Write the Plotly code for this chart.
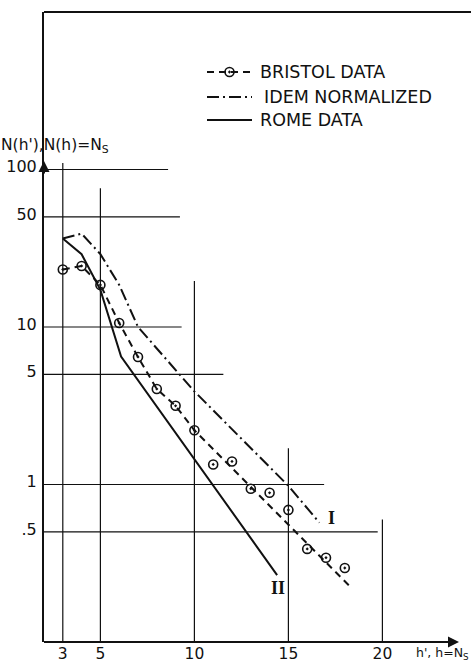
import plotly.graph_objects as go
import math

# ---------------- data ----------------
bristol_x = [3, 4, 5, 6, 7, 8, 9, 10, 11, 12, 13, 14, 15, 16, 17, 18]
bristol_y = [23.2, 24.4, 18.5, 10.6, 6.45, 4.04, 3.16, 2.21, 1.34, 1.40, 0.94, 0.886, 0.69, 0.39, 0.343, 0.295]

bristol_fit_x = [3, 4, 5, 6, 7, 8, 9, 10, 18.33]
bristol_fit_y = [23.2, 24.4, 18.5, 10.6, 6.45, 4.04, 3.16, 2.21, 0.222]

idem_x = [3, 4, 5, 6, 7, 10, 15, 16.65]
idem_y = [36.5, 39.2, 29.0, 18.5, 10.0, 3.9, 0.98, 0.572]

rome_x = [3, 4, 5, 6.1, 14.4]
rome_y = [36.5, 29.0, 17.2, 6.5, 0.266]

x_tick_vals = [3, 5, 10, 15, 20]
x_tick_text = ["3", "5", "10", "15", "20"]
y_tick_vals = [0.5, 1, 5, 10, 50, 100]
y_tick_text = [".5", "1", "5", "10", "50", "100"]

# grid lines with their partial extents (as drawn in the original)
h_grid_vals = [100, 50, 10, 5, 1, 0.5]
h_grid_ends = [8.6, 9.23, 9.32, 11.54, 16.9, 19.75]
v_grid_vals = [3, 5, 10, 15, 20]
v_grid_tops = [110, 76, 19.6, 1.70, 0.60]

legend_names = ["BRISTOL DATA", "IDEM NORMALIZED", "ROME DATA"]

# ---------------- figure ----------------
W, H = 471, 663
ML, MR, MT, MB = 44, 0, 12, 21
PW, PH = W - ML - MR, H - MT - MB
X0 = 2.0
XPX = 18.8
X1 = X0 + PW / XPX

def px2paper_x(px):
    return (px - ML) / PW

def px2paper_y(py):
    return (H - MB - py) / PH

INK = "#111111"
FONT = "DejaVu Sans"

fig = go.Figure()

fig.add_trace(go.Scatter(x=bristol_fit_x, y=bristol_fit_y, mode="lines",
                         line=dict(color=INK, width=2, dash="7px,5px"),
                         showlegend=False, hoverinfo="skip"))
fig.add_trace(go.Scatter(x=idem_x, y=idem_y, mode="lines",
                         line=dict(color=INK, width=2, dash="12px,4px,2px,4px"),
                         showlegend=False))
fig.add_trace(go.Scatter(x=rome_x, y=rome_y, mode="lines",
                         line=dict(color=INK, width=2),
                         showlegend=False))
fig.add_trace(go.Scatter(x=bristol_x, y=bristol_y, mode="markers",
                         marker=dict(symbol="circle-open-dot", size=9, color=INK,
                                     line=dict(color=INK, width=1.6)),
                         showlegend=False))

shapes = []
for v, e in zip(h_grid_vals, h_grid_ends):
    shapes.append(dict(type="line", xref="x", yref="y", x0=X0, x1=e, y0=v, y1=v,
                       line=dict(color=INK, width=1.2), layer="below"))
for v, t in zip(v_grid_vals, v_grid_tops):
    shapes.append(dict(type="line", xref="x", yref="y", x0=v, x1=v, y0=0.1, y1=t,
                       line=dict(color=INK, width=1.2), layer="below"))
# frame: top line and bottom axis line
shapes.append(dict(type="line", xref="paper", yref="paper", x0=0, x1=1, y0=1, y1=1,
                   line=dict(color=INK, width=2)))
shapes.append(dict(type="line", xref="paper", yref="paper", x0=0, x1=px2paper_x(452), y0=0, y1=0,
                   line=dict(color=INK, width=2)))

# manual legend
leg_rows = [72, 97, 120]
leg_x0, leg_x1 = 207, 252
dashes = ["7px,5px", "12px,4px,2px,4px", "solid"]
for ry, d in zip(leg_rows, dashes):
    shapes.append(dict(type="line", xref="paper", yref="paper",
                       x0=px2paper_x(leg_x0), x1=px2paper_x(leg_x1),
                       y0=px2paper_y(ry), y1=px2paper_y(ry),
                       line=dict(color=INK, width=2, dash=d)))

fig.add_trace(go.Scatter(x=[X0 + (229.5 - ML) / XPX], y=[10 ** (3 - (leg_rows[0] - MT) / 157.5)],
                         mode="markers",
                         marker=dict(symbol="circle-open-dot", size=9, color=INK,
                                     line=dict(color=INK, width=1.6)),
                         showlegend=False, hoverinfo="skip"))

annotations = []
leg_text_x = [258, 262, 258]
for name, ry, tx in zip(legend_names, leg_rows, leg_text_x):
    annotations.append(dict(xref="paper", yref="paper", x=px2paper_x(tx), y=px2paper_y(ry),
                            xanchor="left", yanchor="middle", showarrow=False,
                            text=name, font=dict(family=FONT, size=17.5, color=INK)))

# roman numeral labels
annotations.append(dict(xref="x", yref="y", x=17.3, y=math.log10(0.61), text="<b>I</b>",
                        showarrow=False, font=dict(family="Liberation Serif", size=18, color=INK)))
annotations.append(dict(xref="x", yref="y", x=14.45, y=math.log10(0.219), text="<b>II</b>",
                        showarrow=False, font=dict(family="Liberation Serif", size=18, color=INK)))

# axis titles
annotations.append(dict(xref="paper", yref="paper", x=px2paper_x(-1), y=px2paper_y(146),
                        xanchor="left", yanchor="middle", showarrow=False,
                        text="N(h'),N(h)=N<sub>S</sub>", font=dict(family=FONT, size=15.5, color=INK)))
annotations.append(dict(xref="paper", yref="paper", x=px2paper_x(414), y=px2paper_y(653),
                        xanchor="left", yanchor="middle", showarrow=False,
                        text="h', h=N<sub>S</sub>", font=dict(family=FONT, size=12.5, color=INK)))

# arrows on axes
annotations.append(dict(xref="paper", yref="paper", x=px2paper_x(459), y=0, text="",
                        showarrow=True, ax=-14, ay=0, arrowhead=2, arrowsize=1.1,
                        arrowwidth=2, arrowcolor=INK))
annotations.append(dict(xref="paper", yref="paper", x=0, y=px2paper_y(161), text="",
                        showarrow=True, ax=0, ay=14, arrowhead=2, arrowsize=1.1,
                        arrowwidth=2, arrowcolor=INK))

fig.update_layout(
    width=W, height=H,
    margin=dict(l=ML, r=MR, t=MT, b=MB, pad=0, autoexpand=False),
    paper_bgcolor="white", plot_bgcolor="white",
    showlegend=False,
    shapes=shapes, annotations=annotations,
    xaxis=dict(range=[X0, X1], showgrid=False, zeroline=False, showline=False,
               automargin=False,
               tickvals=x_tick_vals, ticktext=x_tick_text, ticks="",
               tickfont=dict(family=FONT, size=15.5, color=INK), ticklabelstandoff=0),
    yaxis=dict(type="log", range=[-1, 3], showgrid=False, zeroline=False,
               automargin=False,
               showline=True, linecolor=INK, linewidth=2,
               tickvals=y_tick_vals, ticktext=y_tick_text, ticks="",
               tickfont=dict(family=FONT, size=16, color=INK),
               ticklabelshift=-3, ticklabelstandoff=2),
)

fig.write_html(
    "out.html",
    config={"displayModeBar": False},
    post_script="document.body.style.margin='0';document.body.style.overflow='hidden';",
)
